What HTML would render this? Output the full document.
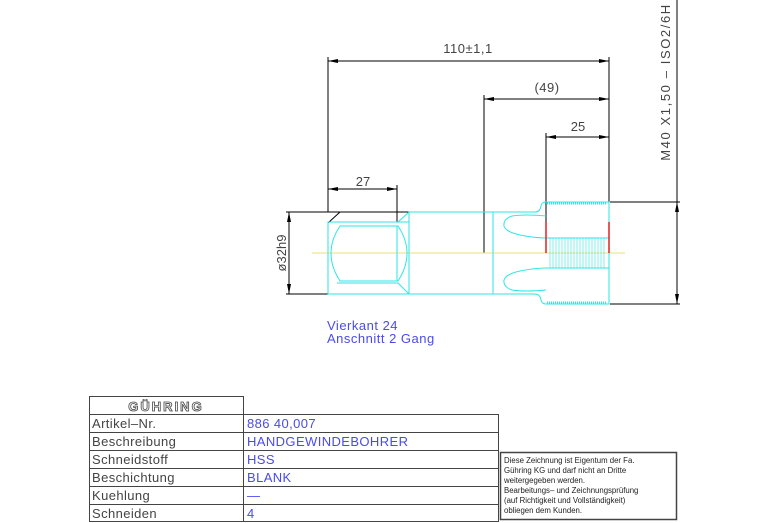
<!DOCTYPE html>
<html><head><style>
html,body{margin:0;padding:0;background:#fff;}
svg{display:block;}
text{font-family:"Liberation Sans",sans-serif;}
</style></head><body>
<svg width="767" height="523" viewBox="0 0 767 523" xmlns="http://www.w3.org/2000/svg">
<defs>
<marker id="a" viewBox="0 0 10 4" refX="10" refY="2" markerWidth="10" markerHeight="4" orient="auto-start-reverse" markerUnits="userSpaceOnUse"><path d="M0,0 L10,2 L0,4 z" fill="#000"/></marker>
</defs>
<g stroke="#000" stroke-width="1" fill="none">
<line x1="328" y1="57" x2="328" y2="212"/>
<line x1="609" y1="57" x2="609" y2="212"/>
<line x1="328" y1="61" x2="609" y2="61" marker-start="url(#a)" marker-end="url(#a)"/>
<line x1="484" y1="95" x2="484" y2="253"/>
<line x1="484" y1="99" x2="609" y2="99" marker-start="url(#a)" marker-end="url(#a)"/>
<line x1="546" y1="133" x2="546" y2="253"/>
<line x1="546" y1="137" x2="609" y2="137" marker-start="url(#a)" marker-end="url(#a)"/>
<line x1="397" y1="185" x2="397" y2="222"/>
<line x1="328" y1="189" x2="397" y2="189" marker-start="url(#a)" marker-end="url(#a)"/>
<line x1="286" y1="212" x2="409" y2="212"/>
<line x1="286" y1="294" x2="409" y2="294"/>
<line x1="289" y1="212" x2="289" y2="294" marker-start="url(#a)" marker-end="url(#a)"/>
<line x1="409" y1="212" x2="493" y2="212" stroke="#888"/>
<line x1="328" y1="223" x2="340" y2="212"/>
<line x1="328" y1="253" x2="484" y2="253"/>
<line x1="677" y1="0" x2="677" y2="302"/>
<line x1="610" y1="202" x2="680" y2="202"/>
<line x1="610" y1="304" x2="680" y2="304"/>
<line x1="677" y1="202" x2="677" y2="304" marker-start="url(#a)" marker-end="url(#a)"/>
</g>
<line x1="312" y1="253" x2="625" y2="253" stroke="#e8e070" stroke-width="1"/>
<g stroke="#2ee6e6" stroke-width="1" fill="none">
<rect x="328" y="222" width="81" height="72"/>
<path d="M337,222 H398 L409,212 M337,283 H398 L409,294"/>
<path d="M340,226 Q322,253 340,281 H398 Q416,253 398,226 Z"/>
<line x1="397" y1="226" x2="397" y2="281"/>
<rect x="409" y="212" width="84" height="82"/>
<path d="M493,212 H535 Q540,212 541,206 Q542,202 546,202 H609 V304 H546 Q542,304 541,300 Q540,294 535,294 H493"/>
<path d="M546,216 Q525,214 512,216 Q503,219 504,226 Q506,232 520,235 Q535,238 546,238"/>
<path d="M546,290 Q525,292 512,290 Q503,287 504,280 Q506,274 520,271 Q535,268 546,268"/>
<line x1="546" y1="238" x2="609" y2="238"/>
<line x1="546" y1="268" x2="609" y2="268"/>
</g>
<g stroke="#2ee6e6" stroke-width="0.6">
<line x1="550" y1="238" x2="550" y2="268"/><line x1="553" y1="238" x2="553" y2="268"/><line x1="556" y1="238" x2="556" y2="268"/><line x1="559" y1="238" x2="559" y2="268"/><line x1="562" y1="238" x2="562" y2="268"/><line x1="565" y1="238" x2="565" y2="268"/><line x1="568" y1="238" x2="568" y2="268"/><line x1="571" y1="238" x2="571" y2="268"/><line x1="574" y1="238" x2="574" y2="268"/><line x1="577" y1="238" x2="577" y2="268"/><line x1="580" y1="238" x2="580" y2="268"/><line x1="583" y1="238" x2="583" y2="268"/><line x1="586" y1="238" x2="586" y2="268"/><line x1="589" y1="238" x2="589" y2="268"/><line x1="592" y1="238" x2="592" y2="268"/><line x1="595" y1="238" x2="595" y2="268"/><line x1="598" y1="238" x2="598" y2="268"/><line x1="601" y1="238" x2="601" y2="268"/><line x1="604" y1="238" x2="604" y2="268"/>
</g>
<line x1="547" y1="203" x2="607" y2="203" stroke="#2ee6e6" stroke-width="3" stroke-dasharray="1,1"/>
<line x1="547" y1="303" x2="607" y2="303" stroke="#2ee6e6" stroke-width="3" stroke-dasharray="1,1"/>
<line x1="546" y1="222" x2="546" y2="253" stroke="#e02020" stroke-width="1.5"/>
<line x1="609" y1="222" x2="609" y2="253" stroke="#e02020" stroke-width="1.5"/>
<g fill="#444" font-size="13">
<text x="468" y="53" text-anchor="middle" letter-spacing="0.5">110±1,1</text>
<text x="547" y="92" text-anchor="middle" letter-spacing="0.5">(49)</text>
<text x="578" y="131" text-anchor="middle">25</text>
<text x="363" y="186" text-anchor="middle">27</text>
<text transform="translate(286,253) rotate(-90)" text-anchor="middle">ø32h9</text>
<text transform="translate(670,82) rotate(-90)" text-anchor="middle" letter-spacing="1.6">M40  X1,50  –  ISO2/6H</text>
</g>
<g fill="#4a4af0" font-size="13" letter-spacing="0.5">
<text x="327" y="330">Vierkant 24</text>
<text x="327" y="343">Anschnitt 2 Gang</text>
</g>
<g stroke="#444" fill="none" stroke-width="1">
<rect x="89.5" y="396.5" width="154" height="18"/>
<rect x="89.5" y="414.5" width="409" height="107"/>
<line x1="243.5" y1="414" x2="243.5" y2="522"/>
<line x1="89" y1="432.5" x2="498" y2="432.5"/>
<line x1="89" y1="450.5" x2="498" y2="450.5"/>
<line x1="89" y1="468.5" x2="498" y2="468.5"/>
<line x1="89" y1="486.5" x2="498" y2="486.5"/>
<line x1="89" y1="504.5" x2="498" y2="504.5"/>
<rect x="500.5" y="452.5" width="176" height="67" stroke-width="1.5"/>
</g>
<text x="166" y="411" text-anchor="middle" font-size="13" font-weight="bold" fill="#fff" stroke="#444" stroke-width="0.8" letter-spacing="2">GÜHRING</text>
<g font-size="13" fill="#444" letter-spacing="0.4">
<text x="92" y="428">Artikel–Nr.</text>
<text x="92" y="446">Beschreibung</text>
<text x="92" y="464">Schneidstoff</text>
<text x="92" y="482">Beschichtung</text>
<text x="92" y="500">Kuehlung</text>
<text x="92" y="518">Schneiden</text>
</g>
<g font-size="13" fill="#4a4af0" letter-spacing="0.4">
<text x="247" y="428">886 40,007</text>
<text x="247" y="446">HANDGEWINDEBOHRER</text>
<text x="247" y="464">HSS</text>
<text x="247" y="482">BLANK</text>
<text x="247" y="500">—</text>
<text x="247" y="518">4</text>
</g>
<g font-size="7.8" fill="#222">
<text x="504" y="463">Diese Zeichnung ist Eigentum der Fa.</text>
<text x="504" y="473">Gühring KG und darf nicht an Dritte</text>
<text x="504" y="483">weitergegeben werden.</text>
<text x="504" y="493">Bearbeitungs– und Zeichnungsprüfung</text>
<text x="504" y="503">(auf Richtigkeit und Vollständigkeit)</text>
<text x="504" y="513">obliegen dem Kunden.</text>
</g>
</svg>
</body></html>
